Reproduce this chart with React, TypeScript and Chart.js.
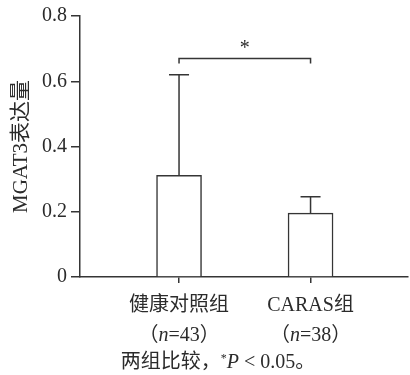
import React, { useEffect, useRef } from 'react';
import { Chart, registerables } from 'chart.js';

Chart.register(...registerables);

const categories = ['健康对照组', 'CARAS组'];
const sampleSizes = ['43', '38'];
const means = [0.312, 0.196];
const sds = [0.308, 0.05];
const yTickValues = [0, 0.2, 0.4, 0.6, 0.8];
const sigPair = [0, 1];
const sigLevel = 0.67;
const sigMark = '*';
const yTitle = 'MGAT3表达量';
const noteText = '两组比较，';
const noteStar = '*';
const noteP = 'P';
const noteRest = ' < 0.05。';

const FONT = "'Liberation Serif', 'Noto Sans CJK SC', serif";
const LINE = '#353535';
const TEXT = '#2b2b2b';

const overlay = {
  id: 'overlay',
  afterDatasetsDraw(chart: any) {
    const { ctx } = chart;
    const x = chart.scales.x;
    const y = chart.scales.y;
    ctx.save();
    ctx.strokeStyle = LINE;
    ctx.lineWidth = 1.5;
    // error bars
    means.forEach((m, i) => {
      const px = x.getPixelForValue(i + 1);
      const base = y.getPixelForValue(m);
      const top = y.getPixelForValue(m + sds[i]);
      ctx.beginPath();
      ctx.moveTo(px, base);
      ctx.lineTo(px, top);
      ctx.moveTo(px - 10, top);
      ctx.lineTo(px + 10, top);
      ctx.stroke();
    });
    // significance bracket
    const x1 = x.getPixelForValue(sigPair[0] + 1);
    const x2 = x.getPixelForValue(sigPair[1] + 1);
    const yb = y.getPixelForValue(sigLevel);
    ctx.beginPath();
    ctx.moveTo(x1, yb + 5);
    ctx.lineTo(x1, yb);
    ctx.lineTo(x2, yb);
    ctx.lineTo(x2, yb + 5);
    ctx.stroke();
    ctx.fillStyle = TEXT;
    ctx.font = `20px ${FONT}`;
    ctx.textAlign = 'center';
    ctx.textBaseline = 'alphabetic';
    ctx.fillText(sigMark, (x1 + x2) / 2, yb - 4);

    // second line of x labels: (n=xx)
    ctx.textAlign = 'left';
    ctx.textBaseline = 'middle';
    const regular = `20px ${FONT}`;
    const italic = `italic 20px ${FONT}`;
    const lineY = y.getPixelForValue(0) + 59;
    sampleSizes.forEach((n, i) => {
      const parts: [string, string][] = [
        ['（', regular],
        ['n', italic],
        ['=' + n + '）', regular],
      ];
      let total = 0;
      parts.forEach(([t, f]) => {
        ctx.font = f;
        total += ctx.measureText(t).width;
      });
      let cx = x.getPixelForValue(i + 1) - total / 2;
      parts.forEach(([t, f]) => {
        ctx.font = f;
        ctx.fillText(t, cx, lineY);
        cx += ctx.measureText(t).width;
      });
    });

    // footnote
    const noteY = y.getPixelForValue(0) + 86;
    const segs: [string, string, number][] = [
      [noteText, `20px ${FONT}`, 0],
      [noteStar, `12px ${FONT}`, -4],
      [noteP, `italic 20px ${FONT}`, 0],
      [noteRest, `20px ${FONT}`, 0],
    ];
    let tw = 0;
    segs.forEach(([t, f]) => {
      ctx.font = f;
      tw += ctx.measureText(t).width;
    });
    let nx = chart.width / 2 + 13 - tw / 2;
    segs.forEach(([t, f, dy]) => {
      ctx.font = f;
      ctx.fillText(t, nx, noteY + dy);
      nx += ctx.measureText(t).width;
    });
    ctx.restore();
  },
};

export default function App() {
  const ref = useRef<HTMLCanvasElement>(null);
  useEffect(() => {
    if (!ref.current) return;
    const chart = new Chart(ref.current, {
      type: 'bar',
      data: {
        datasets: [
          {
            data: means.map((m, i) => ({ x: i + 1, y: m })),
            backgroundColor: '#ffffff',
            borderColor: LINE,
            borderWidth: 1.5,
            barThickness: 45,
          },
        ],
      },
      options: {
        animation: false,
        responsive: false,
        layout: { padding: { top: 15, right: 2, left: 0, bottom: 0 } },
        plugins: {
          legend: { display: false },
          tooltip: { enabled: false },
        },
        scales: {
          x: {
            type: 'linear',
            min: 0.247,
            max: 2.741,
            offset: false,
            afterBuildTicks: (scale: any) => {
              scale.ticks = categories.map((_, i) => ({ value: i + 1 }));
            },
            afterFit: (scale: any) => {
              scale.height = 98;
            },
            grid: {
              drawOnChartArea: false,
              drawTicks: true,
              tickLength: 6,
              color: LINE,
              lineWidth: 1.5,
              offset: false,
            },
            border: { display: true, color: LINE, width: 1.5 },
            ticks: {
              autoSkip: false,
              maxRotation: 0,
              padding: 8,
              color: TEXT,
              font: { family: FONT, size: 20, lineHeight: 1.5 },
              callback: (v: any) => categories[Math.round(Number(v)) - 1] ?? '',
            },
          },
          y: {
            min: 0,
            max: 0.8,
            afterBuildTicks: (scale: any) => {
              scale.ticks = yTickValues.map((v) => ({ value: v }));
            },
            afterFit: (scale: any) => {
              scale.width = 80;
            },
            grid: {
              drawOnChartArea: false,
              drawTicks: true,
              tickLength: 9,
              color: LINE,
              lineWidth: 1.5,
            },
            border: { display: true, color: LINE, width: 1.5 },
            ticks: {
              padding: 4,
              color: TEXT,
              font: { family: FONT, size: 20 },
              callback: (v: any) => (Number(v) === 0 ? '0' : Number(v).toFixed(1)),
            },
            title: {
              display: true,
              text: yTitle,
              color: TEXT,
              font: { family: FONT, size: 21 },
              padding: { top: 9, bottom: 0 },
            },
          },
        },
      },
      plugins: [overlay],
    });
    return () => chart.destroy();
  }, []);
  return (
    <div style={{ position: 'absolute', left: 0, top: 0, width: 410, height: 375, background: '#fff' }}>
      <canvas ref={ref} width={410} height={375} />
    </div>
  );
}
